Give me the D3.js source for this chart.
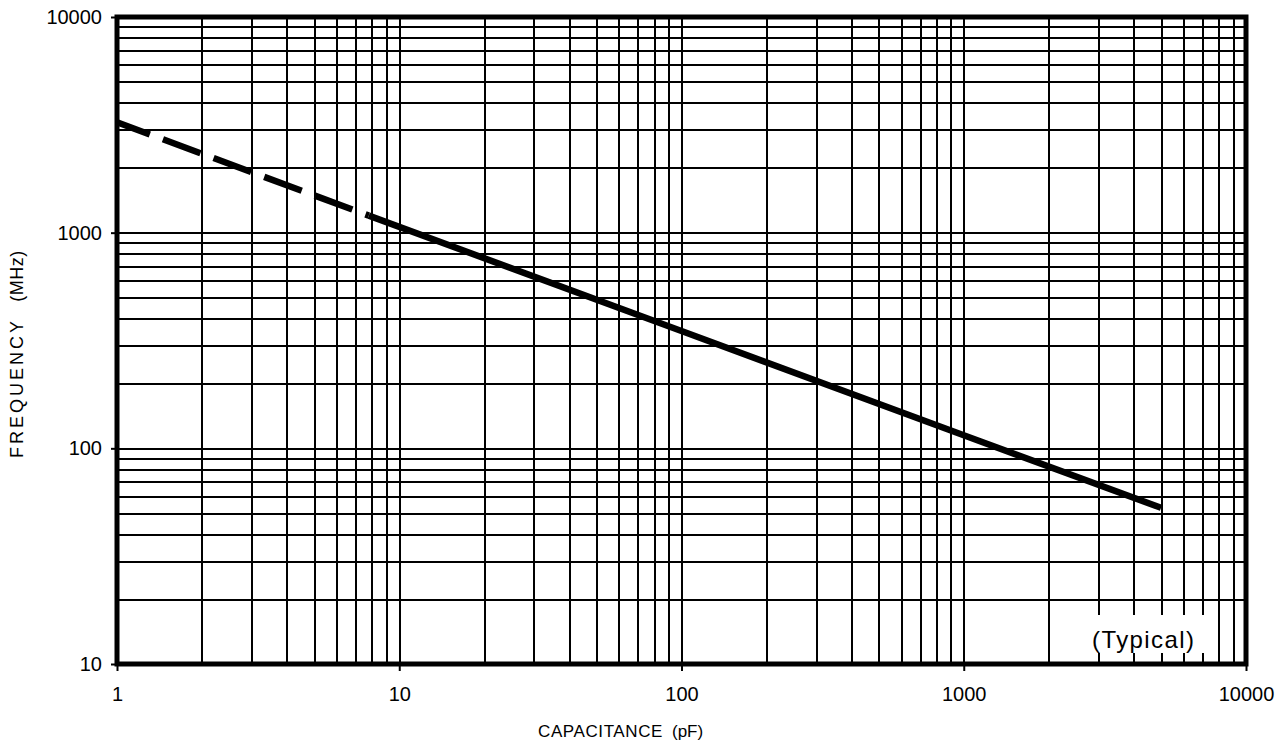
<!DOCTYPE html>
<html lang="en">
<head>
<meta charset="utf-8" />
<title>Frequency vs Capacitance</title>
<script src="https://cdn.jsdelivr.net/npm/d3@7"></script>
<style>
  body { margin: 0; background: #fff; }
  svg { display: block; font-family: "Liberation Sans", Arial, sans-serif; }
  .grid line { stroke: #000; stroke-width: 2px; shape-rendering: crispEdges; }
  .grid path { display: none; }
  .lab path { display: none; }
  .lab line { stroke: #000; stroke-width: 2px; }
  .lab text { font-size: 20px; fill: #000; }
</style>
</head>
<body>
<div id="chart"></div>
<script>
// axis ranges and ticks
var xDomain = [1, 10000];
var yDomain = [10, 10000];
var xLabels = [1, 10, 100, 1000, 10000];
var yLabels = [10, 100, 1000, 10000];

// curve (pF, MHz)
var dashCap  = [1, 7.8];
var dashFreq = [3250, 1200];
var solidCap  = [7.8, 100, 1000, 5000];
var solidFreq = [1200, 350, 115, 53];

var W = 1279, H = 752;
var m = {left: 117, top: 17, right: 33, bottom: 88};
var w = W - m.left - m.right, h = H - m.top - m.bottom;

var x = d3.scaleLog().domain(xDomain).range([0, w]);
var y = d3.scaleLog().domain(yDomain).range([h, 0]);

var svg = d3.select("#chart").append("svg")
    .attr("width", W).attr("height", H);
var g = svg.append("g").attr("transform", "translate(" + m.left + "," + m.top + ")");

// grid
g.append("g").attr("class", "grid")
    .attr("transform", "translate(0," + h + ")")
    .call(d3.axisBottom(x).ticks(10).tickSize(-h).tickFormat(""));
g.append("g").attr("class", "grid")
    .call(d3.axisLeft(y).ticks(10).tickSize(-w).tickFormat(""));

// labelled decade ticks
g.append("g").attr("class", "lab")
    .attr("transform", "translate(0," + h + ")")
    .call(d3.axisBottom(x).tickValues(xLabels).tickSize(7).tickPadding(16).tickFormat(d3.format("d")));
g.append("g").attr("class", "lab")
    .call(d3.axisLeft(y).tickValues(yLabels).tickSize(6).tickPadding(9).tickFormat(d3.format("d")));

// white box behind the note
g.append("rect")
    .attr("x", 973).attr("y", 598)
    .attr("width", 122).attr("height", 38)
    .attr("fill", "#fff");
g.append("text")
    .attr("x", 975).attr("y", 631)
    .attr("font-size", 24).attr("letter-spacing", 1.4)
    .text("(Typical)");

// frame
g.append("rect")
    .attr("width", w).attr("height", h)
    .attr("fill", "none").attr("stroke", "#000").attr("stroke-width", 5);

var line = d3.line()
    .x(function(d) { return x(d[0]); })
    .y(function(d) { return y(d[1]); });

g.append("path")
    .datum(d3.zip(dashCap, dashFreq))
    .attr("d", line)
    .attr("fill", "none").attr("stroke", "#000").attr("stroke-width", 6.5)
    .attr("stroke-dasharray", "40,14").attr("stroke-dashoffset", 5);

g.append("path")
    .datum(d3.zip(solidCap, solidFreq))
    .attr("d", line)
    .attr("fill", "none").attr("stroke", "#000").attr("stroke-width", 6.5);

// axis titles
svg.append("text")
    .attr("x", 538).attr("y", 737)
    .attr("font-size", 17).attr("letter-spacing", 0.6)
    .text("CAPACITANCE");
svg.append("text")
    .attr("x", 672).attr("y", 737)
    .attr("font-size", 17)
    .text("(pF)");

svg.append("text")
    .attr("transform", "translate(23,388) rotate(-90)")
    .attr("text-anchor", "middle").attr("font-size", 18)
    .attr("letter-spacing", 3)
    .text("FREQUENCY");
svg.append("text")
    .attr("transform", "translate(23,276) rotate(-90)")
    .attr("text-anchor", "middle").attr("font-size", 18)
    .attr("letter-spacing", 0.5)
    .text("(MHz)");
</script>
</body>
</html>
